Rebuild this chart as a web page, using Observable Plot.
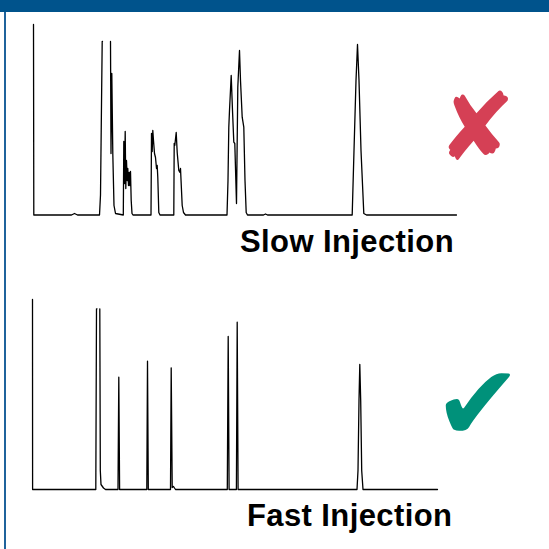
<!DOCTYPE html>
<html><head><meta charset="utf-8">
<script src="https://cdn.jsdelivr.net/npm/d3@7"></script>
<script src="https://cdn.jsdelivr.net/npm/@observablehq/plot@0.6"></script>
<style>
html,body{margin:0;padding:0;background:#fff;}
#page{position:relative;width:549px;height:549px;overflow:hidden;font-family:"Liberation Sans",Arial,sans-serif;}
#header{position:absolute;left:0;top:0;width:549px;height:12px;background:#00538c;}
#border{position:absolute;left:4px;top:12px;width:2px;height:537px;background:#1f639c;}
.chart{position:absolute;left:0;}
.chart svg{display:block;background:transparent;}
.label{position:absolute;font-weight:bold;font-size:31px;line-height:31px;letter-spacing:0.4px;color:#000;white-space:nowrap;}
.icon{position:absolute;font-family:"DejaVu Sans";line-height:1;transform:translate(-50%,-50%);}
</style></head>
<body><div id="page">
<div id="header"></div>
<div id="border"></div>
<div id="slowChart" class="chart" style="top:12px"></div>
<div id="fastChart" class="chart" style="top:287px"></div>
<div class="label" style="left:240px;top:225.7px">Slow Injection</div>
<div class="label" style="left:247px;top:500.3px">Fast Injection</div>
<div class="icon" style="left:476.5px;top:128px;font-size:94px;color:#d54055">✘</div>
<div class="icon" style="left:478px;top:404px;font-size:106px;color:#00917a">✔</div>
</div>
<script>
// Slow injection chromatogram (time, detector response); null = off-scale (gap)
const slowTime = [0,0.03,3.8,4.1,4.4,6.6,6.7,6.87,6.9,7.3,7.7,7.75,7.83,7.93,8.05,8.2,8.98,
  9.03,9.1,9.17,9.23,9.3,9.37,9.43,9.5,9.57,9.63,9.7,9.77,9.85,9.95,
  11.75,11.8,11.87,11.93,12.0,12.1,12.2,12.3,12.37,12.43,12.53,12.65,
  14.03,14.07,14.13,14.27,14.37,14.53,14.63,14.7,14.87,15.0,15.2,
  19.35,19.45,19.53,19.6,19.77,19.9,20.03,20.13,20.3,20.43,20.6,20.7,20.87,21.03,21.15,21.27,21.4,
  23.0,23.2,23.4,31.87,32.05,32.25,32.4,32.55,32.75,33.03,33.3,42.3];
const slowSignal = [190.5,0,0,1.5,0,0,20,173.5,173.5,null,173.5,61.5,141.5,61.5,9.5,1.5,0,
  73.5,31.5,83.5,26.5,54.5,34.5,46.5,29.5,42.5,29.5,43.5,14.5,1.5,0,
  0,81.5,63.5,84.5,74.5,61.5,57.5,46.5,49.5,37.5,2.5,0,
  0,71.5,69.5,82.5,62.5,44.5,42.8,46.5,9.5,2.5,0,
  0,34.5,87.8,104.5,139.5,104.5,72.8,71.5,11.5,127.8,164.5,134.5,97.8,87.8,34.5,2.5,0,
  0,1,0,0,64.5,134.5,170.5,134.5,64.5,1.5,0,0];

// Fast injection chromatogram
const fastTime = [0,0.01,6.33,6.4,6.45,6.68,6.73,6.78,6.85,7.1,7.3,
  8.55,8.63,8.71,11.43,11.5,11.58,13.8,13.87,13.97,14.1,14.3,
  19.48,19.57,19.66,20.39,20.47,20.56,
  32.45,32.55,32.65,32.73,32.82,32.92,33.05,40.5];
const fastSignal = [190,0,0,180.7,180.7,null,180.7,19,5,1.5,0,
  0,112.3,0,0,128.3,0,0,121.7,2,3,0,
  0,153,0,0,167.3,0,
  0,19,89,125,89,19,0,0];

const slow = slowTime.map((t,i)=>({t, s: slowSignal[i]}));
const fast = fastTime.map((t,i)=>({t, s: fastSignal[i]}));

document.getElementById("slowChart").append(Plot.plot({
  width:549, height:222, marginLeft:33, marginRight:93, marginTop:12, marginBottom:19.5,
  x:{domain:[0,42.3], axis:null}, y:{domain:[0,190.5], axis:null},
  marks:[Plot.line(slow,{x:"t",y:"s",stroke:"#000",strokeWidth:1.3})]
}));
document.getElementById("fastChart").append(Plot.plot({
  width:549, height:212, marginLeft:32, marginRight:112, marginTop:12, marginBottom:10,
  x:{domain:[0,40.5], axis:null}, y:{domain:[0,190], axis:null},
  marks:[Plot.line(fast,{x:"t",y:"s",stroke:"#000",strokeWidth:1.3})]
}));
</script>
</body></html>
